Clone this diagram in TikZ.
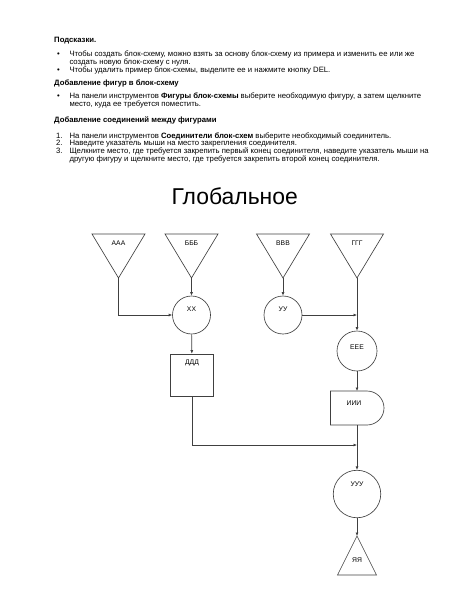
\documentclass[tikz,border=0pt]{standalone}
\usepackage{fontspec}
\setmainfont{Liberation Sans}
\usepackage{tikz}
\usetikzlibrary{arrows.meta}

\tikzset{
  shp/.style={draw=black!75, line width=0.65bp},
  circ/.style={shp, circle, inner sep=0pt},
  box/.style={shp, rectangle, minimum width=43bp, minimum height=42bp, inner sep=0pt},
  lbl/.style={font=\fontsize{6.8}{7}\selectfont, inner sep=0pt},
  conn/.style={draw=black!75, line width=0.65bp, -{Latex[length=3.5bp,width=3bp]}},
  txt/.style={anchor=base west, inner sep=0pt, font=\fontsize{7.75}{8}\selectfont},
  hd/.style={txt, font=\fontsize{7.75}{8}\selectfont\bfseries},
}

\begin{document}
\begin{tikzpicture}[x=1bp,y=-1bp]
\useasboundingbox (0,0) rectangle (462,600);

% Hints
\node[hd] (hdA) at (54,42.8) {Подсказки.};
\node[txt] (bA) at (57,56.5) {\textbullet};
\node[txt] (tA) at (69.3,56.5) {Чтобы создать блок-схему, можно взять за основу блок-схему из примера и изменить ее или же};
\node[txt] (tAb) at (69.3,64.8) {создать новую блок-схему с нуля.};
\node[txt] (bB) at (57,73) {\textbullet};
\node[txt] (tB) at (69.3,73) {Чтобы удалить пример блок-схемы, выделите ее и нажмите кнопку DEL.};

\node[hd] (hdB) at (54,85.5) {Добавление фигур в блок-схему};
\node[txt] (bC) at (57,98.5) {\textbullet};
\node[txt] (tC) at (69.3,98.5) {На панели инструментов \textbf{Фигуры блок-схемы} выберите необходимую фигуру, а затем щелкните};
\node[txt] (tCb) at (69.3,106.2) {место, куда ее требуется поместить.};

\node[hd] (hdC) at (54,122.5) {Добавление соединений между фигурами};
\node[txt] (nA) at (56,138.5) {1.};
\node[txt] (sA) at (69.3,138.5) {На панели инструментов \textbf{Соединители блок-схем} выберите необходимый соединитель.};
\node[txt] (nB) at (56,145.8) {2.};
\node[txt] (sB) at (69.3,145.8) {Наведите указатель мыши на место закрепления соединителя.};
\node[txt] (nC) at (56,153.2) {3.};
\node[txt] (sC) at (69.3,153.2) {Щелкните место, где требуется закрепить первый конец соединителя, наведите указатель мыши на};
\node[txt] (sCb) at (69.3,161.2) {другую фигуру и щелкните место, где требуется закрепить второй конец соединителя.};

% Title
\node[font=\fontsize{23}{25}\selectfont, inner sep=0pt, anchor=base] (title) at (234.7,204) {Глобальное};

% Sources
\foreach \n/\x/\t in {aaa/118.5/ААА, bbb/191.5/БББ, vvv/283/ВВВ, ggg/357/ГГГ} {
  \coordinate (\n) at (\x,278);
  \draw[shp] (\n) -- ++(-26.5,-44) -- ++(53,0) -- cycle;
  \node[lbl] (\n T) at (\x,243.5) {\t};
}

% Circles
\node[circ, minimum size=38bp] (xx) at (191.5,315) {};
\node[lbl] (xxT) at (191.5,309) {ХХ};
\node[circ, minimum size=38bp] (yy) at (283,315) {};
\node[lbl] (yyT) at (283,309) {УУ};
\node[circ, minimum size=40bp] (eee) at (357,351) {};
\node[lbl] (eeeT) at (357,346.7) {ЕЕЕ};

% Process
\node[box] (ddd) at (192,375) {};
\node[lbl] (dddT) at (192,362.7) {ДДД};

% Delay
\draw[shp] (330.5,391) -- (367,391) arc[start angle=90, end angle=-90, radius=17bp] -- (330.5,425) -- cycle;
\coordinate (iiiN) at (357,391);
\coordinate (iiiS) at (357,425);
\node[lbl] (iiiT) at (354,403.3) {ИИИ};

% Merge
\node[circ, minimum size=47.5bp] (uuu) at (357,494) {};
\node[lbl] (uuuT) at (357,484) {УУУ};
\coordinate (jn) at (357,445);

% Sink
\coordinate (yaya) at (357,536);
\draw[shp] (yaya) -- ++(-19.5,39) -- ++(39,0) -- cycle;
\node[lbl] (yayaT) at (357,560) {ЯЯ};

% Connectors
\draw[conn] (aaa) |- (xx);
\draw[conn] (bbb) -- (xx);
\draw[conn] (vvv) -- (yy);
\draw[conn] (ggg) -- (eee);
\draw[conn] (yy) -- (yy -| ggg);
\draw[conn] (xx) -- (ddd);
\draw[conn] (eee) -- (iiiN);
\draw[conn] (iiiS) -- (uuu);
\draw[conn] (ddd) |- (jn);
\draw[conn] (uuu) -- (yaya);
\end{tikzpicture}
\end{document}
